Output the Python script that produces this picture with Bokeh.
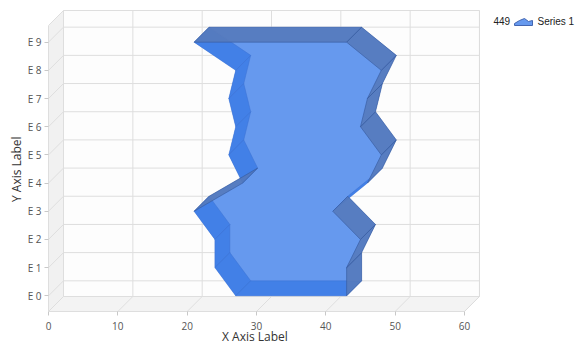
from bokeh.plotting import figure
from bokeh.models import Range1d, FixedTicker, Title
from bokeh.embed import file_html
from bokeh.resources import INLINE
from bokeh.core.properties import value

# ---------------- data ----------------
categories = ["E 0", "E 1", "E 2", "E 3", "E 4", "E 5", "E 6", "E 7", "E 8", "E 9"]
low_values = [27, 24, 24, 21, 28, 26, 27, 26, 27, 21]
high_values = [43, 43, 45, 41, 46, 48, 45, 46, 48, 43]
x_ticks = [0, 10, 20, 30, 40, 50, 60]
legend_total = "449"
series_name = "Series 1"
x_title = "X Axis Label"
y_title = "Y Axis Label"

# ---------------- projection / layout constants ----------------
PX_X = 6.933          # pixels per x unit
PX_Y = 28.18          # pixels per category step
DEPTH = 15.0          # 3D depth offset in pixels
DX = DEPTH / PX_X
DY = DEPTH / PX_Y
Y0 = -0.557           # front floor level (category units)
YTOP = 9.592          # front top of left wall
XMAX = x_ticks[-1]
FRAME_L, FRAME_B = 48, 311

p = figure(width=583, height=352,
           x_range=Range1d(0, (583 - FRAME_L) / PX_X),
           y_range=Range1d(Y0, Y0 + FRAME_B / PX_Y),
           output_backend="svg", toolbar_location=None,
           min_border_left=FRAME_L, min_border_right=0,
           min_border_top=0, min_border_bottom=352 - FRAME_B)
p.outline_line_color = None
p.grid.visible = False
p.background_fill_color = "white"
p.border_fill_color = "white"

GRID = "#dedede"

# back wall
p.quad(left=[DX], right=[XMAX + DX], bottom=[Y0 + DY], top=[YTOP + DY],
       fill_color="#fdfdfd", line_color=GRID, line_width=1)
# left wall
p.patch(x=[0, DX, DX, 0], y=[Y0, Y0 + DY, YTOP + DY, YTOP],
        fill_color="#f1f1f1", line_color=GRID, line_width=1)
# floor
p.patch(x=[0, XMAX, XMAX + DX, DX], y=[Y0, Y0, Y0 + DY, Y0 + DY],
        fill_color="#f3f3f3", line_color=GRID, line_width=1)

# back-wall grid
vx0 = [v + DX for v in x_ticks]
p.segment(x0=vx0, y0=[Y0 + DY] * len(x_ticks), x1=vx0, y1=[YTOP + DY] * len(x_ticks),
          line_color=GRID, line_width=1)
cats = list(range(len(categories)))
p.segment(x0=[DX] * len(cats), y0=[c + DY for c in cats],
          x1=[XMAX + DX] * len(cats), y1=[c + DY for c in cats],
          line_color=GRID, line_width=1)
# floor diagonals
p.segment(x0=x_ticks, y0=[Y0] * len(x_ticks), x1=vx0, y1=[Y0 + DY] * len(x_ticks),
          line_color=GRID, line_width=1)
# left wall diagonals
p.segment(x0=[0] * len(cats), y0=cats, x1=[DX] * len(cats), y1=[c + DY for c in cats],
          line_color=GRID, line_width=1)

# ---------------- 3D range area ----------------
poly_x = high_values + low_values[::-1]
poly_y = cats + cats[::-1]
back_x = [x + DX for x in poly_x]
back_y = [y + DY for y in poly_y]

p.patches(xs=[poly_x, back_x], ys=[poly_y, back_y],
          fill_color="#6699ee", fill_alpha=1.0, line_color=None)

hid_xs, hid_ys, vis_xs, vis_ys = [], [], [], []
n = len(poly_x)
for k in range(n):
    px, py = poly_x[k], poly_y[k]
    qx, qy = poly_x[(k + 1) % n], poly_y[(k + 1) % n]
    ex = (qx - px) * PX_X
    ey = (qy - py) * PX_Y
    if ex == 0 and ey == 0:
        continue
    qxs = [px, qx, qx + DX, px + DX]
    qys = [py, qy, qy + DY, py + DY]
    if ey > ex:
        vis_xs.append(qxs); vis_ys.append(qys)
    else:
        hid_xs.append(qxs); hid_ys.append(qys)

p.patches(xs=hid_xs, ys=hid_ys, fill_color="#3e7de5", fill_alpha=0.9,
          line_color="#3a6fd0", line_alpha=0.5, line_width=0.8)
p.patches(xs=vis_xs, ys=vis_ys, fill_color="#5578b8", fill_alpha=0.85,
          line_color="#33579a", line_alpha=0.7, line_width=0.8)

# ---------------- axes ----------------
xa = p.xaxis[0]
xa.ticker = FixedTicker(ticks=x_ticks)
xa.bounds = (0, XMAX)
xa.major_label_standoff = 6
ya = p.yaxis[0]
ya.ticker = FixedTicker(ticks=cats)
ya.major_label_overrides = {i: c for i, c in enumerate(categories)}
ya.bounds = (Y0, YTOP)
ya.major_label_standoff = 3
for ax in (xa, ya):
    ax.axis_line_color = GRID
    ax.major_tick_line_color = "#c8c8c8"
    ax.major_tick_out = 4
    ax.major_tick_in = 0
    ax.minor_tick_line_color = None
    ax.major_label_text_font = "Open Sans"
    ax.major_label_text_font_size = "10px"
    ax.major_label_text_color = "#555555"

# axis titles centred on the front plane (as side-panel titles)
p.add_layout(Title(text=x_title, align="left", offset=173.5, standoff=-10,
                   vertical_align="top",
                   text_font="Open Sans", text_font_size="12px",
                   text_font_style="normal", text_color="#333333"), "below")
p.add_layout(Title(text=y_title, align="left", offset=109.5, standoff=0,
                   text_font="Open Sans", text_font_size="12px",
                   text_font_style="normal", text_color="#333333"), "left")

# ---------------- legend ----------------
def sx(px):
    return (px - FRAME_L) / PX_X

def sy(py):
    return Y0 + (FRAME_B - py) / PX_Y

p.text(x=[sx(493)], y=[sy(20.5)], text=[legend_total],
       text_font=value("Liberation Sans"), text_font_size="10px",
       text_baseline="middle", text_align="left", text_color="#222222")
p.text(x=[sx(537)], y=[sy(20.5)], text=[series_name],
       text_font=value("Liberation Sans"), text_font_size="10px",
       text_baseline="middle", text_align="left", text_color="#222222")
icon_px = [514, 514, 519, 524, 528, 532, 532]
icon_py = [25, 23, 20, 18, 21, 20, 25]
p.patch(x=[sx(v) for v in icon_px], y=[sy(v) for v in icon_py],
        fill_color="#6699ee", line_color="#4466b0", line_width=1)

open("out.html", "w").write(file_html(p, INLINE))
